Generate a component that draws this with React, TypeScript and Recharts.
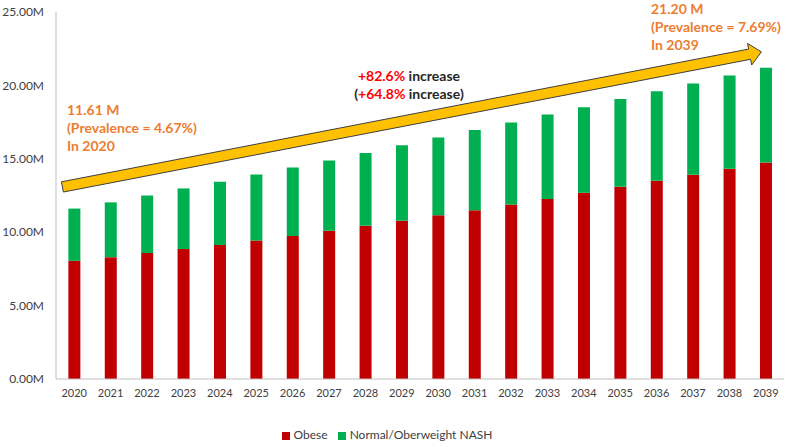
import { Bar, BarChart, Legend, ReferenceLine, XAxis, YAxis } from 'recharts'

const years = ['2020', '2021', '2022', '2023', '2024', '2025', '2026', '2027', '2028', '2029', '2030', '2031', '2032', '2033', '2034', '2035', '2036', '2037', '2038', '2039']
const obese = [8.05, 8.3, 8.58, 8.85, 9.12, 9.44, 9.74, 10.1, 10.44, 10.78, 11.15, 11.5, 11.88, 12.27, 12.68, 13.1, 13.5, 13.92, 14.33, 14.75]
const normalOverweight = [3.56, 3.73, 3.92, 4.13, 4.31, 4.49, 4.67, 4.79, 4.96, 5.15, 5.3, 5.47, 5.59, 5.75, 5.84, 5.97, 6.11, 6.21, 6.35, 6.45]
const yTicks = [0, 5, 10, 15, 20, 25]
const seriesOrder = ['Obese', 'Normal/Oberweight NASH']

// trend arrow, in axis units at the first and last year
const arrowStart = 13.24
const arrowEnd = 22.34

const data = years.map((year, i) => ({
  year,
  obese: obese[i],
  normal: normalOverweight[i],
}))

const font = 'Lato, "Open Sans", sans-serif'
const orange = '#ED7D31'

function TrendArrow(props: any) {
  const { x1, y1, x2, y2 } = props
  const dx = x2 - x1
  const dy = y2 - y1
  const len = Math.sqrt(dx * dx + dy * dy)
  const ux = dx / len
  const uy = dy / len
  // normal vector
  const nx = -uy
  const ny = ux
  const sx = x1 - ux * 12
  const sy = y1 - uy * 12
  const tx = x2 - ux * 4.5
  const ty = y2 - uy * 4.5
  const headLen = 12
  const shaft = 5.2
  const head = 11
  const bx = tx - ux * headLen
  const by = ty - uy * headLen
  const pts = [
    [sx + nx * shaft, sy + ny * shaft],
    [bx + nx * shaft, by + ny * shaft],
    [bx + nx * head, by + ny * head],
    [tx, ty],
    [bx - nx * head, by - ny * head],
    [bx - nx * shaft, by - ny * shaft],
    [sx - nx * shaft, sy - ny * shaft],
  ]
  return (
    <polygon
      points={pts.map((p) => p.join(',')).join(' ')}
      fill="#FFC000"
      stroke="#3f3f3f"
      strokeWidth={1}
    />
  )
}

export default function App() {
  return (
    <div style={{ position: 'absolute', left: 0, top: 0, width: 789, height: 447, background: '#fff' }}>
      <BarChart
        width={789}
        height={447}
        data={data}
        margin={{ top: 12, right: 5, bottom: 0, left: 0 }}
        barCategoryGap="34%"
      >
        <XAxis
          dataKey="year"
          height={48}
          tickLine={false}
          tickSize={0}
          tickMargin={10}
          axisLine={{ stroke: '#bfbfbf' }}
          tick={{ fill: '#404040', fontSize: 11, fontFamily: font }}
          interval={0}
        />
        <YAxis
          width={56}
          domain={[0, 25]}
          ticks={yTicks}
          tickLine={false}
          tickSize={0}
          tickMargin={12}
          axisLine={{ stroke: '#bfbfbf' }}
          tick={{ fill: '#404040', fontSize: 12, fontFamily: font }}
          tickFormatter={(v: number) => `${v.toFixed(2)}M`}
        />
        <Legend
          height={20}
          iconType="square"
          iconSize={8}
          itemSorter={(item: any) => seriesOrder.indexOf(item.value)}
          wrapperStyle={{ fontFamily: font, fontSize: 12 }}
          formatter={(value: string) => <span style={{ color: '#404040' }}>{value}</span>}
        />
        <Bar dataKey="obese" name="Obese" stackId="a" fill="#C00000" isAnimationActive={false} />
        <Bar dataKey="normal" name="Normal/Oberweight NASH" stackId="a" fill="#00B050" isAnimationActive={false} />
        <ReferenceLine
          segment={[
            { x: years[0], y: arrowStart },
            { x: years[years.length - 1], y: arrowEnd },
          ]}
          ifOverflow="visible"
          shape={TrendArrow}
        />
        <text fontFamily={font} fontSize={14} fontWeight={700} fill={orange}>
          <tspan x={67} y={115}>11.61 M</tspan>
          <tspan x={67} y={133}>(Prevalence = 4.67%)</tspan>
          <tspan x={67} y={151}>In 2020</tspan>
        </text>
        <text fontFamily={font} fontSize={14} fontWeight={700} fill={orange}>
          <tspan x={651} y={14}>21.20 M</tspan>
          <tspan x={651} y={32}>(Prevalence = 7.69%)</tspan>
          <tspan x={651} y={50}>In 2039</tspan>
        </text>
        <text fontFamily={font} fontSize={14} fontWeight={700} textAnchor="middle" x={409} y={81}>
          <tspan fill="#FF0000">+82.6%</tspan>
          <tspan fill="#262626"> increase</tspan>
        </text>
        <text fontFamily={font} fontSize={14} fontWeight={700} textAnchor="middle" x={409} y={99}>
          <tspan fill="#262626">(</tspan>
          <tspan fill="#FF0000">+64.8%</tspan>
          <tspan fill="#262626"> increase)</tspan>
        </text>
      </BarChart>
    </div>
  )
}
